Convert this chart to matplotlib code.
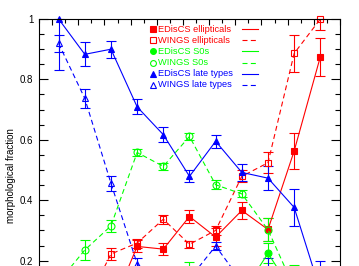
import numpy as np
import matplotlib
matplotlib.use("Agg")
import matplotlib.pyplot as plt
from matplotlib.ticker import MultipleLocator, FuncFormatter

plt.rcParams["font.family"] = ["Liberation Sans", "DejaVu Sans"]

# bins along x (axis labels are cut off in the reference)
x_bins = [0, 1, 2, 3, 4, 5, 6, 7, 8, 9, 10]

# EDisCS ellipticals
edis_ell = [0.00, 0.03, 0.04, 0.247, 0.238, 0.346, 0.278, 0.366, 0.303, 0.563, 0.875]
edis_ell_err = [0.01, 0.02, 0.03, 0.02, 0.02, 0.022, 0.03, 0.027, 0.037, 0.06, 0.063]

# WINGS ellipticals
wings_ell = [0.02, 0.05, 0.222, 0.258, 0.337, 0.254, 0.300, 0.479, 0.524, 0.886, 1.0]
wings_ell_lo = [0.01, 0.02, 0.02, 0.015, 0.015, 0.012, 0.015, 0.02, 0.035, 0.06, 0.035]
wings_ell_hi = [0.01, 0.02, 0.02, 0.015, 0.015, 0.012, 0.015, 0.02, 0.035, 0.06, 0.0]

# EDisCS S0s
edis_s0 = [0.0, 0.05, 0.10, 0.12, 0.14, 0.15, 0.14, 0.09, 0.224, 0.09, 0.05]
edis_s0_err = [0.01, 0.03, 0.03, 0.03, 0.03, 0.047, 0.03, 0.03, 0.033, 0.04, 0.03]

# WINGS S0s
wings_s0 = [0.13, 0.235, 0.315, 0.558, 0.512, 0.611, 0.451, 0.421, 0.302, 0.11, 0.02]
wings_s0_err = [0.03, 0.032, 0.02, 0.012, 0.012, 0.012, 0.015, 0.012, 0.038, 0.075, 0.02]

# EDisCS late types
edis_late = [1.0, 0.883, 0.90, 0.709, 0.617, 0.479, 0.595, 0.492, 0.473, 0.376, 0.10]
edis_late_lo = [0.17, 0.04, 0.028, 0.025, 0.025, 0.02, 0.022, 0.028, 0.04, 0.06, 0.10]
edis_late_hi = [0.0, 0.04, 0.028, 0.025, 0.025, 0.02, 0.022, 0.028, 0.04, 0.06, 0.10]

# WINGS late types
wings_late = [0.919, 0.737, 0.456, 0.19, 0.10, 0.14, 0.248, 0.13, 0.17, 0.10, 0.05]
wings_late_err = [0.027, 0.032, 0.025, 0.02, 0.03, 0.03, 0.014, 0.03, 0.04, 0.03, 0.03]

red, green, blue = "#ff0000", "#00ff00", "#0000ff"
solid = "-"
dashed = (0, (4.5, 3))

series = [
    ("EDisCS ellipticals", edis_ell, edis_ell_err, edis_ell_err, red, "s", True, solid),
    ("WINGS ellipticals", wings_ell, wings_ell_lo, wings_ell_hi, red, "s", False, dashed),
    ("EDisCS S0s", edis_s0, edis_s0_err, edis_s0_err, green, "o", True, solid),
    ("WINGS S0s", wings_s0, wings_s0_err, wings_s0_err, green, "o", False, dashed),
    ("EDisCS late types", edis_late, edis_late_lo, edis_late_hi, blue, "^", True, solid),
    ("WINGS late types", wings_late, wings_late_err, wings_late_err, blue, "^", False, dashed),
]

fig = plt.figure(figsize=(3.59, 2.66), dpi=100)
# the reference is cropped: the lower part of the axes lies below the figure
ax = fig.add_axes([0.1086, -0.2068, 0.8384, 1.1354])

for label, vals, lo, hi, c, m, filled, ls in series:
    cont = ax.errorbar(x_bins, vals, yerr=[lo, hi], color=c, marker=m,
                       mfc=c if filled else "none", mec=c, mew=0.8, ms=5,
                       lw=0.8, ls=ls, elinewidth=0.8, capsize=3.5, capthick=0.8)
    for art in cont.get_children():
        art.set_clip_on(False)

ax.set_xlim(-0.75, 10.75)
ax.set_ylim(0, 1)

ax.xaxis.set_major_locator(MultipleLocator(1, offset=0.75))
ax.xaxis.set_minor_locator(MultipleLocator(0.5, offset=0.25))
ax.yaxis.set_major_locator(MultipleLocator(0.2))
ax.yaxis.set_minor_locator(MultipleLocator(0.05))
# the 0 label falls below the cropped picture, so leave it empty
ax.yaxis.set_major_formatter(FuncFormatter(lambda v, p: "%g" % round(v, 2) if v > 0.1 else ""))
ax.tick_params(which="both", direction="in", top=True, right=True, width=0.8,
               labelsize=7, pad=4)
ax.tick_params(axis="x", labelbottom=False)
ax.tick_params(axis="y", which="major", length=6.5)
ax.tick_params(axis="y", which="minor", length=3.5)
ax.tick_params(axis="x", which="major", length=4)
ax.tick_params(axis="x", which="minor", length=3)
for sp in ax.spines.values():
    sp.set_linewidth(0.8)

ax.set_ylabel("morphological fraction", fontsize=7)
ax.yaxis.set_label_coords(-0.075, 0.48)

# legend: symbol, coloured text, line sample
y0, dy = 0.966, 0.0368
for k, (label, vals, lo, hi, c, m, filled, ls) in enumerate(series):
    yy = y0 - k * dy
    ax.plot([0.38], [yy], transform=ax.transAxes, marker=m, ms=4.2,
            mfc=c if filled else "none", mec=c, mew=0.8, ls="none", clip_on=False)
    ax.text(0.395, yy, label, transform=ax.transAxes, color=c, fontsize=6.7,
            ha="left", va="center")
    ax.plot([0.673, 0.726], [yy, yy], transform=ax.transAxes, color=c,
            lw=0.8, ls=ls, clip_on=False)

fig.savefig("out.png", dpi=100)
